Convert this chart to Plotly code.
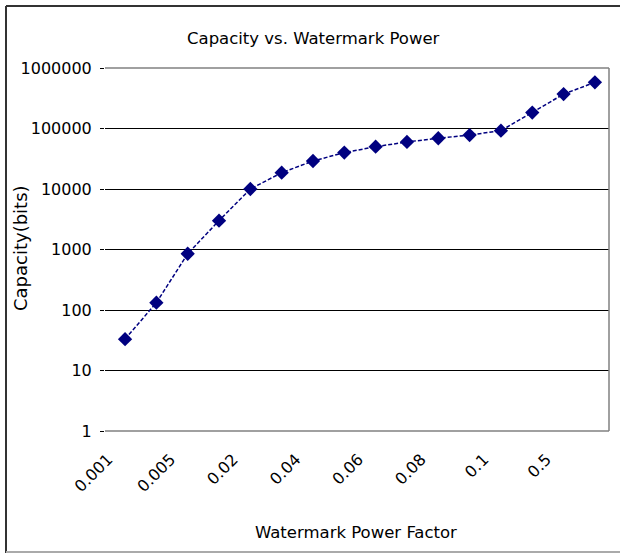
import plotly.graph_objects as go

# Data
categories = ["0.001", "0.002", "0.005", "0.01", "0.02", "0.03", "0.04", "0.05",
              "0.06", "0.07", "0.08", "0.09", "0.1", "0.2", "0.5", "1"]
capacity = [33, 132, 850, 3000, 10000, 18600, 29000, 40000,
            50000, 60000, 69000, 78000, 92000, 183000, 370000, 580000]
x_tick_labels = ["0.001", "0.005", "0.02", "0.04", "0.06", "0.08", "0.1", "0.5"]
y_tick_vals = [1, 10, 100, 1000, 10000, 100000, 1000000]
y_tick_text = ["1", "10", "100", "1000", "10000", "100000", "1000000"]

W, H = 620, 554
L, R, T, B = 105, 609, 68, 431


def px(x):
    return (x - L) / (R - L)


def py(y):
    return (B - y) / (B - T)


FONT = "DejaVu Sans, Verdana, sans-serif"

fig = go.Figure()
fig.add_trace(go.Scatter(
    x=categories, y=capacity, mode="lines+markers",
    line=dict(color="#000080", width=1.5, dash="4px,2px"),
    marker=dict(symbol="diamond", size=11, color="#000080"),
    showlegend=False,
))

fig.update_layout(
    width=W, height=H,
    margin=dict(l=L, r=W - R, t=T, b=H - B),
    paper_bgcolor="white", plot_bgcolor="white",
    font=dict(family=FONT, size=16, color="black"),
    xaxis=dict(
        type="category", categoryorder="array", categoryarray=categories,
        tickmode="array", tickvals=x_tick_labels, ticktext=x_tick_labels,
        tickangle=-45, showgrid=False, showline=False, ticks="",
        zeroline=False, range=[-0.64, 15.45],
        tickfont=dict(size=16), ticklabelstandoff=15, ticklabelshift=-17,
    ),
    yaxis=dict(
        type="log", range=[0, 6],
        tickmode="array", tickvals=y_tick_vals, ticktext=y_tick_text,
        showgrid=True, gridcolor="black", gridwidth=1,
        showline=False, ticks="outside", ticklen=4, tickcolor="black",
        zeroline=False, tickfont=dict(size=16), ticklabelstandoff=5,
    ),
    annotations=[
        dict(text="Capacity vs. Watermark Power", xref="paper", yref="paper",
             x=px(313), y=py(38), showarrow=False, font=dict(size=16.5),
             xanchor="center", yanchor="middle"),
        dict(text="Capacity(bits)", xref="paper", yref="paper",
             x=px(20), y=py(248), showarrow=False, textangle=-90,
             font=dict(size=18), xanchor="center", yanchor="middle"),
        dict(text="Watermark Power Factor", xref="paper", yref="paper",
             x=px(356), y=py(532), showarrow=False, font=dict(size=16.5),
             xanchor="center", yanchor="middle"),
    ],
    shapes=[
        # plot-area border (top, right, bottom) in gray
        dict(type="line", xref="paper", yref="paper", x0=0, x1=1, y0=1, y1=1,
             line=dict(color="#808080", width=1.5)),
        dict(type="line", xref="paper", yref="paper", x0=1, x1=1, y0=0, y1=1,
             line=dict(color="#808080", width=1.5)),
        dict(type="line", xref="paper", yref="paper", x0=0, x1=1, y0=0, y1=0,
             line=dict(color="#808080", width=1.5)),
        # outer chart frame
        dict(type="line", xref="paper", yref="paper", x0=px(6), x1=px(6),
             y0=py(6), y1=py(553), line=dict(color="#333333", width=2)),
        dict(type="line", xref="paper", yref="paper", x0=px(6), x1=px(622),
             y0=py(6), y1=py(6), line=dict(color="#333333", width=2)),
        dict(type="line", xref="paper", yref="paper", x0=px(6), x1=px(622),
             y0=py(552), y1=py(552), line=dict(color="#aaaaaa", width=2)),
    ],
)

fig.write_html(
    "out.html",
    config={"displayModeBar": False},
    post_script="document.body.style.margin='0';document.body.style.overflow='hidden';",
)
